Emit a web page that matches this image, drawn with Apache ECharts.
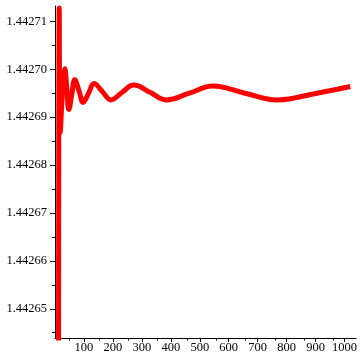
<!DOCTYPE html>
<html>
<head>
<meta charset="utf-8">
<script src="https://cdn.jsdelivr.net/npm/echarts@6/dist/echarts.min.js"></script>
<style>
  html, body { margin: 0; padding: 0; background: #ffffff; }
  #chart { width: 360px; height: 354px; }
</style>
</head>
<body>
<div id="chart"></div>
<script>
// Curve samples: turning points and mean-level crossings of the damped oscillation
const xValues = [12, 14.7, 18, 34.2, 41, 47.8, 58, 68.3, 83, 97.3, 116, 134.9, 164, 193,
                 232, 271.5, 328, 384, 464, 545, 656, 767, 905, 1020];
const yValues = [1.44262, 1.4427128, 1.4426868, 1.4427001, 1.4426959, 1.4426916, 1.4426947,
                 1.4426978, 1.4426955, 1.4426931, 1.4426950, 1.4426970, 1.4426953, 1.4426936,
                 1.4426952, 1.4426967, 1.4426952, 1.4426936, 1.4426950, 1.4426965, 1.4426950,
                 1.4426936, 1.4426950, 1.4426964];

// Axis ticks
const xMajorTicks = [100, 200, 300, 400, 500, 600, 700, 800, 900, 1000];
const xMinorTicks = [50, 150, 250, 350, 450, 550, 650, 750, 850, 950];
const yMajorTicks = [1.44265, 1.44266, 1.44267, 1.44268, 1.44269, 1.44270, 1.44271];
const yMinorTicks = [1.442645, 1.442655, 1.442665, 1.442675, 1.442685, 1.442695, 1.442705];

const X_MIN = 0, X_MAX = 1040;
const Y_MIN = 1.4426439, Y_MAX = 1.4427132;

const points = xValues.map((x, i) => [x, yValues[i]]);

const gridBox = { left: 55, right: 0, top: 6, bottom: 16, containLabel: false };
const labelFont = { fontFamily: '"Liberation Serif", "DejaVu Serif", serif', fontSize: 12.5, color: '#000' };
const ink = { color: '#000', width: 1 };

const chart = echarts.init(document.getElementById('chart'), null, { renderer: 'canvas' });
chart.setOption({
  animation: false,
  backgroundColor: '#ffffff',
  grid: [Object.assign({}, gridBox), Object.assign({}, gridBox)],
  xAxis: [
    {
      type: 'value', gridIndex: 0, min: X_MIN, max: X_MAX,
      axisLine: { show: true, onZero: false, lineStyle: ink },
      axisTick: { show: true, length: 4, lineStyle: ink, customValues: xMajorTicks },
      axisLabel: Object.assign({
        show: true, margin: 3, customValues: xMajorTicks,
        formatter: v => String(Math.round(v))
      }, labelFont),
      splitLine: { show: false }
    },
    {
      type: 'value', gridIndex: 1, min: X_MIN, max: X_MAX,
      axisLine: { show: false },
      axisTick: { show: true, length: 2.5, lineStyle: ink, customValues: xMinorTicks },
      axisLabel: { show: false },
      splitLine: { show: false }
    }
  ],
  yAxis: [
    {
      type: 'value', gridIndex: 0, min: Y_MIN, max: Y_MAX, scale: true,
      axisLine: { show: true, onZero: false, lineStyle: ink },
      axisTick: { show: true, length: 5, lineStyle: ink, customValues: yMajorTicks },
      axisLabel: Object.assign({
        show: true, margin: 8, customValues: yMajorTicks,
        formatter: v => Number(v).toFixed(5)
      }, labelFont),
      splitLine: { show: false }
    },
    {
      type: 'value', gridIndex: 1, min: Y_MIN, max: Y_MAX, scale: true,
      axisLine: { show: false },
      axisTick: { show: true, length: 3, lineStyle: ink, customValues: yMinorTicks },
      axisLabel: { show: false },
      splitLine: { show: false }
    }
  ],
  series: [
    {
      type: 'line',
      xAxisIndex: 0, yAxisIndex: 0,
      data: points,
      smooth: 0.42,
      showSymbol: false,
      clip: true,
      lineStyle: { color: '#ff0000', width: 5, join: 'round', cap: 'butt' }
    }
  ]
});
</script>
</body>
</html>
